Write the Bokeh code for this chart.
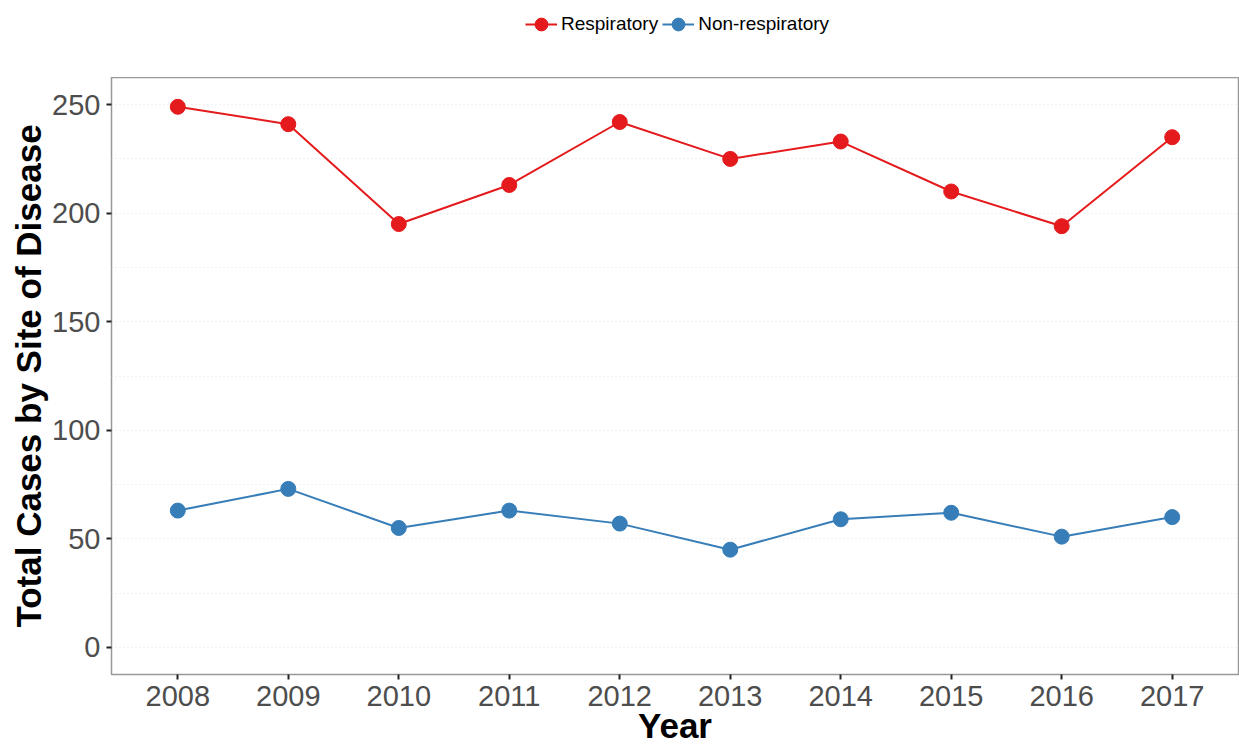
from bokeh.plotting import figure
from bokeh.layouts import column
from bokeh.models import Range1d, FixedTicker, Legend, LegendItem, ColumnDataSource
from bokeh.embed import file_html
from bokeh.resources import INLINE

years = [2008, 2009, 2010, 2011, 2012, 2013, 2014, 2015, 2016, 2017]
respiratory = [249, 241, 195, 213, 242, 225, 233, 210, 194, 235]
non_respiratory = [63, 73, 55, 63, 57, 45, 59, 62, 51, 60]
series_names = ["Respiratory", "Non-respiratory"]
y_ticks = [0, 50, 100, 150, 200, 250]
y_minor = [25, 75, 125, 175, 225]

RED = "#E41A1C"
BLUE = "#377EB8"
FONT = "Liberation Sans"

src_r = ColumnDataSource(dict(x=years, y=respiratory))
src_n = ColumnDataSource(dict(x=years, y=non_respiratory))

# ---- legend strip (top) ----
lg = figure(width=1239, height=77, output_backend="svg", toolbar_location=None,
            x_range=Range1d(0, 1), y_range=Range1d(0, 1),
            x_axis_type=None, y_axis_type=None,
            min_border_left=0, min_border_right=0, min_border_top=0, min_border_bottom=0)
lg.outline_line_color = None
lg.xgrid.grid_line_color = None
lg.ygrid.grid_line_color = None
lg_lr = lg.line("x", "y", source=src_r, line_color=RED, line_width=2)
lg_sr = lg.scatter("x", "y", source=src_r, size=15, fill_color=RED, line_color=RED)
lg_ln = lg.line("x", "y", source=src_n, line_color=BLUE, line_width=2)
lg_sn = lg.scatter("x", "y", source=src_n, size=15, fill_color=BLUE, line_color=BLUE)
legend = Legend(items=[LegendItem(label=series_names[0], renderers=[lg_lr, lg_sr]),
                       LegendItem(label=series_names[1], renderers=[lg_ln, lg_sn])],
                orientation="horizontal", location=(414, 37),
                padding=0, margin=0, spacing=4, label_standoff=4,
                glyph_width=32, glyph_height=32,
                label_text_font=FONT, label_text_font_size="19px",
                label_text_color="black",
                background_fill_alpha=0, border_line_color=None)
lg.add_layout(legend, "center")

# ---- main plot ----
p = figure(width=1239, height=670, output_backend="svg", toolbar_location=None,
           x_range=Range1d(2007.4, 2017.6), y_range=Range1d(-12.5, 262.5),
           min_border_left=111, min_border_right=1, min_border_top=0, min_border_bottom=60)

p.line("x", "y", source=src_r, line_color=RED, line_width=2)
p.scatter("x", "y", source=src_r, size=15, fill_color=RED, line_color=RED)
p.line("x", "y", source=src_n, line_color=BLUE, line_width=2)
p.scatter("x", "y", source=src_n, size=15, fill_color=BLUE, line_color=BLUE)

p.xaxis.ticker = FixedTicker(ticks=years)
p.yaxis.ticker = FixedTicker(ticks=y_ticks, minor_ticks=y_minor)

p.xgrid.grid_line_color = None
p.ygrid.grid_line_color = "#e3e3e3"
p.ygrid.grid_line_dash = "1 3"
p.ygrid.minor_grid_line_color = "#e3e3e3"
p.ygrid.minor_grid_line_dash = "1 3"

p.outline_line_color = "#999999"
p.outline_line_width = 1.5

for ax in (p.xaxis, p.yaxis):
    ax.axis_line_color = None
    ax.major_tick_line_color = "#222222"
    ax.major_tick_line_width = 2
    ax.major_tick_in = 0
    ax.major_tick_out = 5
    ax.minor_tick_line_color = None
    ax.major_label_text_font = FONT
    ax.major_label_text_font_size = "29px"
    ax.major_label_text_color = "#4d4d4d"
    ax.axis_label_text_font = FONT
    ax.axis_label_text_font_size = "35px"
    ax.axis_label_text_font_style = "bold"
    ax.axis_label_text_color = "black"

p.xaxis.axis_label = "Year"
p.yaxis.axis_label = "Total Cases by Site of Disease"
p.xaxis.major_label_standoff = 6
p.yaxis.major_label_standoff = 6
p.xaxis.axis_label_standoff = -3
p.yaxis.axis_label_standoff = 1

layout = column(lg, p, spacing=0)
open("out.html", "w").write(file_html(layout, INLINE))
